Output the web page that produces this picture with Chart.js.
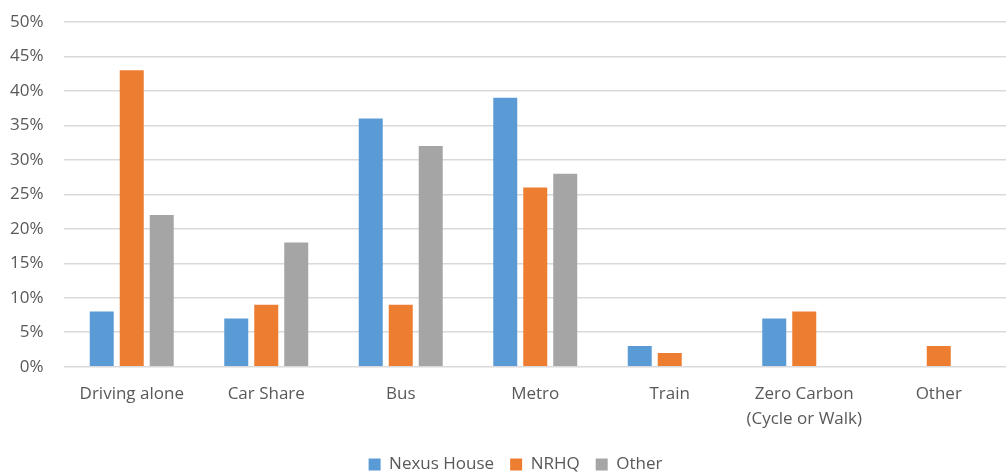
<!DOCTYPE html>
<html>
<head>
<meta charset="utf-8">
<script src="https://cdn.jsdelivr.net/npm/chart.js@4/dist/chart.umd.min.js"></script>
<style>
  html, body { margin: 0; padding: 0; background: #ffffff; }
  #wrap { width: 1007px; height: 472px; position: relative; }
</style>
</head>
<body>
<div id="wrap"><canvas id="c"></canvas></div>
<script>
// Commute mode share by site (percent of staff)
const categories = [
  "Driving alone",
  "Car Share",
  "Bus",
  "Metro",
  "Train",
  ["Zero Carbon", "(Cycle or Walk)"],
  "Other"
];
const nexusHouse = [8, 7, 36, 39, 3, 7, 0];
const nrhq       = [43, 9, 9, 26, 2, 8, 3];
const otherSite  = [22, 18, 32, 28, 0, 0, 0];
const yTicks = [0, 5, 10, 15, 20, 25, 30, 35, 40, 45, 50];

const textColor = "#595959";
const fontFamily = "'Open Sans', 'Noto Sans', sans-serif";

// place the legend row under the plot: a little right of the canvas middle, tucked up under the labels
const legendShift = {
  id: "legendShift",
  afterLayout(chart) {
    const lg = chart.legend;
    if (lg) {
      lg.left += 18; lg.right += 18;
      lg.top -= 6; lg.bottom -= 6;
    }
  }
};

new Chart(document.getElementById("c"), {
  type: "bar",
  data: {
    labels: categories,
    datasets: [
      { label: "Nexus House", data: nexusHouse, backgroundColor: "#5B9BD5" },
      { label: "NRHQ", data: nrhq, backgroundColor: "#ED7D31" },
      { label: "Other", data: otherSite, backgroundColor: "#A5A5A5" }
    ]
  },
  plugins: [legendShift],
  options: {
    responsive: true,
    maintainAspectRatio: false,
    animation: false,
    layout: { padding: { top: 22, right: 1, left: -11, bottom: -17 } },
    datasets: {
      bar: { categoryPercentage: 0.669, barPercentage: 0.8 }
    },
    scales: {
      x: {
        grid: { display: false, drawTicks: false },
        border: { display: false },
        ticks: {
          color: textColor,
          font: { family: fontFamily, size: 17, lineHeight: 1.45 },
          padding: 15,
          maxRotation: 0
        }
      },
      y: {
        min: 0,
        max: 50,
        afterBuildTicks: (axis) => { axis.ticks = yTicks.map(v => ({ value: v })); },
        // top edge is set by layout padding, not by the half-height of the top label
        afterFit: (axis) => { axis.paddingTop = 0; axis.paddingBottom = 0; },
        grid: { color: "#D9D9D9", lineWidth: 1.5, drawTicks: false },
        border: { display: false },
        ticks: {
          color: textColor,
          font: { family: fontFamily, size: 17 },
          padding: 21,
          callback: (v) => v + "%"
        }
      }
    },
    plugins: {
      tooltip: { enabled: false },
      legend: {
        position: "bottom",
        labels: {
          color: textColor,
          font: { family: fontFamily, size: 17 },
          boxWidth: 12,
          boxHeight: 12,
          padding: 16
        }
      }
    }
  }
});
</script>
</body>
</html>
